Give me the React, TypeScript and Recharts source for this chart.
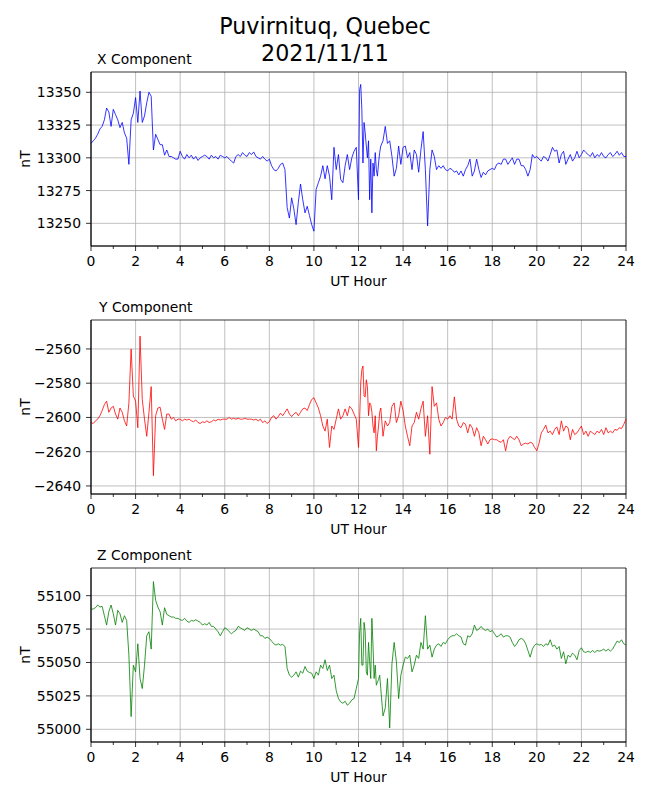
import React from 'react';
import { LineChart, Line, XAxis, YAxis, CartesianGrid, ReferenceArea } from 'recharts';

// magnetometer values every 0.1 h (every 0.05 h during the 12 UT burst)
const HOURS = [
  ...Array.from({ length: 120 }, (_, i) => i / 10),
  ...Array.from({ length: 20 }, (_, i) => 12 + i / 20),
  ...Array.from({ length: 111 }, (_, i) => 13 + i / 10),
];
const ALL_HOURS = Array.from({ length: 25 }, (_, i) => i);
const MAJOR_HOURS = [0, 2, 4, 6, 8, 10, 12, 14, 16, 18, 20, 22, 24];

const X_NT = [
  13311, 13313, 13315, 13318, 13322, 13324, 13329, 13338, 13335, 13324,
  13337, 13333, 13329, 13323, 13327, 13319, 13315, 13295, 13329, 13334,
  13346, 13327, 13351, 13327, 13332, 13342, 13350, 13347, 13306, 13318,
  13314, 13310, 13310, 13302, 13306, 13301, 13301, 13300, 13299, 13299,
  13305, 13301, 13299, 13302.5, 13300, 13302, 13299, 13301, 13298, 13300,
  13301, 13302, 13301, 13299, 13302, 13300, 13301, 13299, 13302, 13301,
  13300, 13301, 13299, 13297.5, 13296, 13301, 13302.5, 13301, 13304, 13302,
  13301, 13304, 13302.5, 13304.5, 13301, 13300, 13299, 13301, 13299, 13297.5,
  13299, 13294, 13291, 13290, 13292, 13295, 13296, 13291, 13262, 13254,
  13269.5, 13261, 13249, 13266, 13280, 13268, 13258, 13263, 13256, 13249,
  13244, 13276, 13281, 13286, 13294, 13284, 13294, 13286, 13268, 13308,
  13291, 13302.5, 13283.5, 13281, 13294, 13302.5, 13291, 13300, 13305, 13308,
  13268, 13352, 13356, 13337, 13296, 13327, 13319, 13309, 13300, 13313,
  13268, 13299, 13258, 13296, 13286, 13304, 13291, 13286, 13296, 13304,
  13309, 13313, 13324, 13311, 13313, 13301, 13286, 13292, 13309, 13295,
  13308, 13309, 13300, 13304, 13291, 13306, 13302.5, 13289, 13306, 13320,
  13291, 13248, 13291, 13306, 13301, 13291, 13294, 13292, 13294, 13291,
  13290, 13292, 13291, 13289, 13290, 13287, 13290, 13286, 13291, 13294,
  13299, 13286, 13290, 13299, 13291, 13285, 13289, 13287, 13290, 13291,
  13292, 13291, 13295, 13296, 13295, 13299, 13299, 13295, 13297.5, 13300,
  13295, 13299, 13299, 13294, 13294, 13291, 13286, 13291, 13302.5, 13300,
  13301, 13299, 13297.5, 13301, 13300, 13297.5, 13302.5, 13308, 13305, 13306,
  13296, 13302.5, 13305, 13295, 13299, 13302.5, 13297.5, 13300, 13305, 13300,
  13302.5, 13306, 13304, 13302.5, 13301, 13304, 13300, 13302.5, 13301, 13304,
  13301, 13300, 13302.5, 13304, 13301, 13302.5, 13305, 13302, 13304, 13301,
  13301,
];

const Y_NT = [
  -2603, -2603.5, -2602, -2601, -2599, -2596, -2592.5, -2590.5, -2597, -2594.5,
  -2593.5, -2598, -2601, -2594.5, -2597, -2602, -2605, -2591.5, -2560, -2587.5,
  -2590.5, -2606, -2552.5, -2589.5, -2601, -2611, -2597, -2582, -2634, -2599,
  -2594.5, -2594, -2601, -2607, -2598, -2598, -2601, -2600, -2602, -2601,
  -2601, -2602, -2601, -2601.5, -2601, -2602, -2602.5, -2601.5, -2603, -2603.5,
  -2602.5, -2603, -2602, -2603, -2602.5, -2601.5, -2602, -2601, -2601.5, -2601,
  -2601, -2601, -2600, -2601, -2600.5, -2601, -2600.5, -2601, -2601, -2600.5,
  -2601, -2601, -2601, -2601.5, -2601, -2602, -2601, -2603, -2602, -2603.5,
  -2602.5, -2600, -2599, -2601, -2599.5, -2597.5, -2599, -2597, -2595, -2598,
  -2599.5, -2598, -2597, -2599, -2597, -2595, -2594.5, -2596, -2592.5, -2589.5,
  -2588.5, -2591.5, -2594.5, -2599, -2605, -2608, -2601, -2617.5, -2605, -2607,
  -2601, -2595, -2601, -2599, -2595, -2599, -2593.5, -2595, -2598, -2601,
  -2617.5, -2601, -2580, -2572, -2570, -2587.5, -2588, -2578, -2582, -2599,
  -2591.5, -2592.5, -2597, -2605, -2609, -2599, -2619.5, -2611, -2605, -2597,
  -2594.5, -2611, -2602, -2605, -2603, -2593.5, -2591.5, -2603, -2599, -2590.5,
  -2596, -2605, -2611, -2616.5, -2605, -2603, -2597, -2601, -2595, -2590.5,
  -2611, -2599, -2621.5, -2582, -2593.5, -2591.5, -2601, -2605, -2603, -2600,
  -2601, -2599, -2601, -2588, -2601, -2605, -2606, -2603, -2604, -2609,
  -2604, -2606, -2611, -2606, -2609, -2616.5, -2611, -2613, -2615.5, -2613,
  -2612.5, -2613, -2613, -2614, -2614.5, -2613, -2619.5, -2613, -2611, -2612,
  -2613, -2611, -2613, -2616.5, -2615.5, -2615, -2615.5, -2614.5, -2615, -2617.5,
  -2619.5, -2615, -2609, -2607, -2604.5, -2609, -2608, -2610, -2607, -2605.5,
  -2610, -2602, -2608, -2605, -2606, -2613, -2607, -2610, -2609, -2607,
  -2605, -2610, -2608, -2611, -2608, -2609, -2610, -2608, -2609, -2607,
  -2610, -2606, -2609, -2608, -2609, -2607, -2607.5, -2606, -2606.5, -2604,
  -2601,
];

const Z_NT = [
  55090, 55090, 55091, 55093, 55091.5, 55092, 55085, 55078, 55088, 55093,
  55086.5, 55078, 55089, 55086.5, 55080, 55085, 55081.5, 55055.5, 55009.5, 55048,
  55043, 55064, 55038, 55030.5, 55048, 55070, 55073, 55060, 55110.5, 55096.5,
  55091.5, 55088, 55078, 55091, 55086, 55085, 55084, 55084, 55083, 55083,
  55082, 55081.5, 55083, 55081, 55080, 55081.5, 55081, 55082, 55081, 55080,
  55078, 55079, 55078, 55080, 55077, 55077, 55075, 55073, 55070, 55073,
  55076, 55075, 55073, 55071.5, 55073, 55074, 55077, 55076, 55075, 55074,
  55076, 55075, 55074, 55075, 55074, 55073, 55070, 55070, 55068, 55069,
  55068, 55066, 55064, 55063, 55064, 55063, 55063.5, 55062, 55045.5, 55040.5,
  55039, 55040.5, 55043, 55039, 55043.5, 55042, 55047, 55043.5, 55042.5, 55042,
  55038, 55043, 55040.5, 55048, 55045.5, 55052, 55044, 55048, 55038, 55040.5,
  55029, 55023, 55020.5, 55019.5, 55021, 55018, 55019.5, 55022, 55023, 55030.5,
  55038, 55073, 55083, 55048, 55048, 55080, 55073, 55043, 55040.5, 55065,
  55050.5, 55038, 55083, 55063, 55038, 55048, 55033, 55035.5, 55037, 55040.5,
  55030.5, 55010, 55016, 55038, 55001, 55049, 55065, 55050.5, 55023, 55040.5,
  55048, 55054, 55053, 55055.5, 55043, 55048, 55055.5, 55053, 55065, 55060,
  55085, 55060, 55063, 55054, 55060, 55063, 55064, 55062, 55065, 55064,
  55067, 55069, 55070, 55070, 55071.5, 55070, 55069, 55064, 55063, 55070,
  55069, 55071.5, 55078, 55074, 55075, 55077, 55075, 55074, 55075, 55073,
  55074, 55071.5, 55069, 55070, 55071.5, 55069, 55070, 55070, 55069, 55065,
  55062, 55064, 55067, 55068, 55067, 55064, 55059, 55054, 55060, 55063,
  55064, 55063, 55063.5, 55062, 55064, 55063, 55067, 55062, 55063, 55060,
  55062, 55053, 55058, 55049, 55055.5, 55054, 55057, 55055.5, 55052, 55059,
  55061, 55058, 55057.5, 55058.5, 55057.5, 55059, 55057.5, 55059, 55058.5, 55059,
  55060, 55058.5, 55060, 55058.5, 55060, 55063, 55066, 55065, 55067, 55064,
  55063,
];

const X_TICKS = [13250, 13275, 13300, 13325, 13350];
const Y_TICKS = [-2640, -2620, -2600, -2580, -2560];
const Z_TICKS = [55000, 55025, 55050, 55075, 55100];

const FONT = '"DejaVu Sans", sans-serif';
const TICK = { fill: '#000', fontSize: 13.9, fontFamily: FONT };
const BLACK_LINE = { stroke: '#000', strokeWidth: 0.8 };

const PANEL_H = 174;
const TICK_LEN = 5;
const TICK_PAD = 5;

// matplotlib style minus sign
const fmtNT = (v: number) => String(v).replace('-', '\u2212');

// hour ticks: long tick + label on even hours, short tick on odd hours
const HourTick = (props: any) => {
  const { x, y, payload } = props;
  const axisY = y - TICK_LEN - TICK_PAD;
  const major = payload.value % 2 === 0;
  return (
    <g>
      <line x1={x} x2={x} y1={axisY} y2={axisY + (major ? TICK_LEN : 3)} stroke="#000" strokeWidth={0.8} />
      {major && (
        <text x={x} y={y} dy="0.71em" textAnchor="middle" {...TICK}>
          {payload.value}
        </text>
      )}
    </g>
  );
};

interface PanelProps {
  top: number;
  values: number[];
  color: string;
  domain: [number, number];
  ticks: number[];
}

const Panel = ({ top, values, color, domain, ticks }: PanelProps) => {
  const data = HOURS.map((hour, i) => ({ hour, nT: values[i] }));
  return (
    <div style={{ position: 'absolute', left: 0, top: top - 10 }}>
      <LineChart
        width={650}
        height={10 + PANEL_H + 45}
        data={data}
        margin={{ top: 10, right: 24, bottom: 0, left: 0 }}
      >
        <CartesianGrid stroke="#b0b0b0" strokeWidth={0.8} verticalValues={MAJOR_HOURS} horizontalValues={ticks} />
        <XAxis
          dataKey="hour"
          type="number"
          domain={[0, 24]}
          ticks={ALL_HOURS}
          interval={0}
          height={45}
          tickSize={TICK_LEN}
          tickMargin={TICK_PAD}
          tick={<HourTick />}
          tickLine={false}
          axisLine={BLACK_LINE}
        />
        <YAxis
          type="number"
          domain={domain}
          allowDataOverflow
          ticks={ticks}
          interval={0}
          width={91}
          tickSize={TICK_LEN}
          tickMargin={TICK_PAD}
          tick={TICK}
          tickFormatter={fmtNT}
          tickLine={BLACK_LINE}
          axisLine={BLACK_LINE}
        />
        <ReferenceArea
          x1={0}
          x2={24}
          y1={domain[0]}
          y2={domain[1]}
          fill="none"
          stroke="#000"
          strokeWidth={0.8}
        />
        <Line
          type="linear"
          dataKey="nT"
          stroke={color}
          strokeWidth={0.8}
          dot={false}
          isAnimationActive={false}
        />
      </LineChart>
    </div>
  );
};

const PANEL_TOPS = [72, 320, 568];
const PANEL_TITLES = ['X Component', 'Y Component', 'Z Component'];
const TITLE_X = [97, 99, 97];

export default function App() {
  return (
    <div
      style={{
        position: 'absolute',
        left: 0,
        top: 0,
        width: 650,
        height: 800,
        background: '#fff',
        fontFamily: FONT,
      }}
    >
      <Panel top={PANEL_TOPS[0]} values={X_NT} color="#0000ff" domain={[13232.7, 13365.5]} ticks={X_TICKS} />
      <Panel top={PANEL_TOPS[1]} values={Y_NT} color="#ff0000" domain={[-2644.7, -2543.1]} ticks={Y_TICKS} />
      <Panel top={PANEL_TOPS[2]} values={Z_NT} color="#008000" domain={[54990.5, 55120.7]} ticks={Z_TICKS} />
      <svg
        width={650}
        height={800}
        style={{ position: 'absolute', left: 0, top: 0, pointerEvents: 'none' }}
        fontFamily={FONT}
      >
        <text x={325} y={33.5} textAnchor="middle" fontSize={22.2} fill="#000">
          Puvirnituq, Quebec
        </text>
        <text x={325} y={61} textAnchor="middle" fontSize={22.2} fill="#000">
          2021/11/11
        </text>
        {PANEL_TOPS.map((top, i) => (
          <g key={PANEL_TITLES[i]}>
            <text x={TITLE_X[i]} y={top - 8} fontSize={13.9} fill="#000">
              {PANEL_TITLES[i]}
            </text>
            <text x={358.5} y={top + PANEL_H + 39.5} textAnchor="middle" fontSize={13.9} fill="#000">
              UT Hour
            </text>
            <text
              x={30}
              y={top + PANEL_H / 2}
              textAnchor="middle"
              fontSize={13.9}
              fill="#000"
              transform={`rotate(-90 30 ${top + PANEL_H / 2})`}
            >
              nT
            </text>
          </g>
        ))}
      </svg>
    </div>
  );
}
